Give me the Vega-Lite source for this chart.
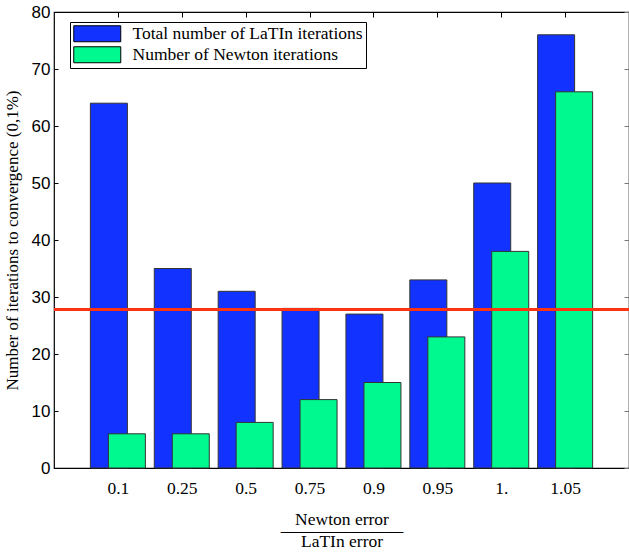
{
  "$schema": "https://vega.github.io/schema/vega-lite/v6.json",
  "width": 575,
  "height": 456,
  "autosize": "none",
  "padding": {"left": 54, "top": 12, "right": 0, "bottom": 88},
  "background": "white",
  "datasets": {
    "bars": [
      {"ratio": "0.1", "series": "Total number of LaTIn iterations", "value": 64},
      {"ratio": "0.25", "series": "Total number of LaTIn iterations", "value": 35},
      {"ratio": "0.5", "series": "Total number of LaTIn iterations", "value": 31},
      {"ratio": "0.75", "series": "Total number of LaTIn iterations", "value": 28},
      {"ratio": "0.9", "series": "Total number of LaTIn iterations", "value": 27},
      {"ratio": "0.95", "series": "Total number of LaTIn iterations", "value": 33},
      {"ratio": "1.", "series": "Total number of LaTIn iterations", "value": 50},
      {"ratio": "1.05", "series": "Total number of LaTIn iterations", "value": 76},
      {"ratio": "0.1", "series": "Number of Newton iterations", "value": 6},
      {"ratio": "0.25", "series": "Number of Newton iterations", "value": 6},
      {"ratio": "0.5", "series": "Number of Newton iterations", "value": 8},
      {"ratio": "0.75", "series": "Number of Newton iterations", "value": 12},
      {"ratio": "0.9", "series": "Number of Newton iterations", "value": 15},
      {"ratio": "0.95", "series": "Number of Newton iterations", "value": 23},
      {"ratio": "1.", "series": "Number of Newton iterations", "value": 38},
      {"ratio": "1.05", "series": "Number of Newton iterations", "value": 66}
    ],
    "reference": [{"level": 27.8}]
  },
  "config": {
    "view": {"stroke": "black", "strokeWidth": 1.2},
    "font": "Liberation Serif",
    "legend": {
      "orient": "none",
      "legendX": 16,
      "legendY": 10,
      "strokeColor": "black",
      "fillColor": "white",
      "padding": 3,
      "symbolType": "M-1,-1L4.875,-1L4.875,1L-1,1Z",
      "symbolSize": 256,
      "symbolStrokeColor": "black",
      "symbolStrokeWidth": 1,
      "symbolOpacity": 1,
      "labelFont": "Liberation Serif",
      "labelFontSize": 17.5,
      "labelColor": "black",
      "labelOffset": 42,
      "rowPadding": 0,
      "labelLimit": 400
    }
  },
  "resolve": {"axis": {"x": "independent", "y": "independent"}},
  "layer": [
    {
      "data": {"name": "bars"},
      "transform": [{"filter": "datum.series == 'Total number of LaTIn iterations'"}],
      "mark": {"type": "bar", "width": 37, "xOffset": -9, "stroke": "#333333", "strokeWidth": 1},
      "encoding": {
        "x": {
          "field": "ratio", "type": "ordinal", "sort": null,
          "scale": {"type": "point", "padding": 1},
          "axis": {
            "orient": "bottom",
            "title": ["Newton error", "―――――――", "LaTIn error"],
            "titleFont": "Liberation Serif", "titleFontSize": 17.5, "titleFontWeight": "normal",
            "titleLineHeight": 11, "titlePadding": 14, "titleColor": "black",
            "labelFont": "Liberation Serif", "labelFontSize": 17.5, "labelColor": "black",
            "labelAngle": 0, "tickSize": -5, "labelPadding": 16, "domain": false, "tickColor": "black"
          }
        },
        "y": {
          "field": "value", "type": "quantitative",
          "scale": {"domain": [0, 80], "nice": false},
          "axis": {
            "orient": "left",
            "title": "Number of iterations to convergence (0,1%)",
            "titleFont": "Liberation Serif", "titleFontSize": 17, "titleFontWeight": "normal",
            "titleColor": "black", "titlePadding": 10,
            "values": [0, 10, 20, 30, 40, 50, 60, 70, 80],
            "labelFont": "Liberation Sans", "labelFontSize": 17, "labelColor": "black",
            "tickSize": -4, "labelPadding": 8, "grid": false, "domain": false, "tickColor": "black"
          }
        },
        "color": {
          "field": "series", "type": "nominal",
          "scale": {
            "domain": ["Total number of LaTIn iterations", "Number of Newton iterations"],
            "range": ["#1232ff", "#00f98f"]
          },
          "legend": {"title": null}
        }
      }
    },
    {
      "data": {"name": "bars"},
      "transform": [{"filter": "datum.series == 'Number of Newton iterations'"}],
      "mark": {"type": "bar", "width": 37, "xOffset": 9, "stroke": "#333333", "strokeWidth": 1},
      "encoding": {
        "x": {
          "field": "ratio", "type": "ordinal", "sort": null,
          "scale": {"type": "point", "padding": 1},
          "axis": {"orient": "top", "title": null, "labels": false, "tickSize": -5, "domain": false, "tickColor": "black"}
        },
        "y": {
          "field": "value", "type": "quantitative",
          "scale": {"domain": [0, 80], "nice": false},
          "axis": {"orient": "right", "title": null, "labels": false, "tickSize": -5, "domain": false, "grid": false, "tickColor": "#777777", "values": [0, 10, 20, 30, 40, 50, 60, 70, 80]}
        },
        "color": {"field": "series", "type": "nominal"}
      }
    },
    {
      "data": {"name": "reference"},
      "mark": {"type": "rule", "color": "#ff3311", "strokeWidth": 3},
      "encoding": {"y": {"field": "level", "type": "quantitative", "axis": null}}
    }
  ]
}
